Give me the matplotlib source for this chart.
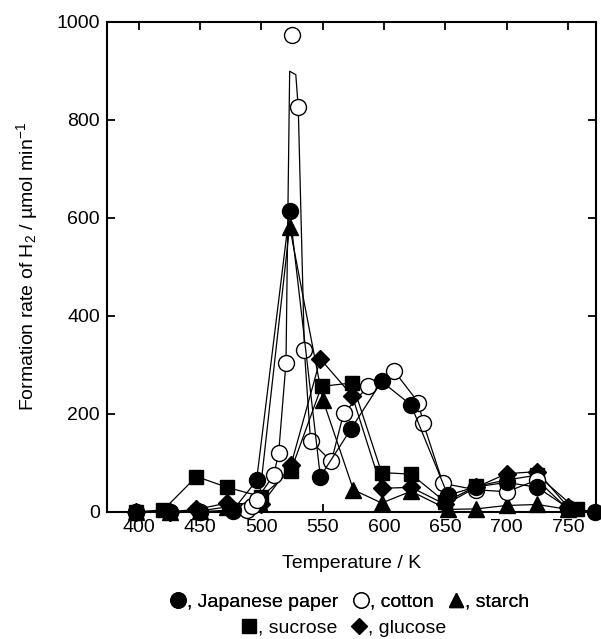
import matplotlib
matplotlib.use("Agg")
import matplotlib.pyplot as plt
from matplotlib.lines import Line2D

plt.rcParams['font.family'] = ['Liberation Sans', 'DejaVu Sans']
plt.rcParams['mathtext.fontset'] = 'custom'
plt.rcParams['mathtext.rm'] = 'Liberation Sans'
plt.rcParams['mathtext.it'] = 'Liberation Sans'

# Japanese paper (filled circles)
paper_T = [398, 425, 450, 477, 496, 523, 548, 573, 598, 622, 652, 675, 700, 725, 750, 772]
paper_V = [0, 0, 0, 4, 64, 614, 72, 169, 266, 218, 34, 51, 60, 50, 8, 0]

# cotton (open circles); the drawn curve tops out below the 525 K point
cotton_T = [398, 425, 450, 477, 488, 492, 496, 510, 514, 520, 525, 530, 535, 540,
            557, 567, 587, 608, 628, 632, 648, 675, 700, 725, 750]
cotton_V = [0, 0, 0, 2, 4, 11, 25, 75, 120, 304, 973, 825, 330, 145,
            103, 201, 256, 288, 223, 181, 58, 45, 41, 65, 5]
cotton_line_T = [398, 425, 450, 477, 488, 492, 496, 510, 514, 520, 523, 528, 530, 535, 540,
                 557, 567, 587, 608, 628, 632, 648, 675, 700, 725, 750]
cotton_line_V = [0, 0, 0, 2, 4, 11, 25, 75, 120, 304, 899, 892, 825, 330, 145,
                 103, 201, 256, 288, 223, 181, 58, 45, 41, 65, 5]

# starch (filled triangles)
starch_T = [398, 425, 450, 472, 498, 523, 550, 575, 598, 622, 652, 675, 700, 725, 750]
starch_V = [0, 0, 2, 10, 20, 582, 229, 45, 18, 42, 5, 6, 13, 15, 5]

# sucrose (filled squares)
sucrose_T = [398, 420, 447, 472, 500, 524, 549, 574, 598, 622, 650, 675, 700, 725, 757]
sucrose_V = [0, 4, 72, 50, 31, 84, 256, 263, 80, 77, 20, 52, 65, 75, 5]

# glucose (filled diamonds)
glucose_T = [398, 425, 447, 472, 500, 524, 548, 574, 598, 622, 650, 675, 700, 725, 750]
glucose_V = [0, 0, 5, 18, 15, 95, 312, 237, 48, 50, 15, 50, 78, 82, 10]

x_ticks = [400, 450, 500, 550, 600, 650, 700, 750]
y_ticks = [0, 200, 400, 600, 800, 1000]

fs = 14

fig = plt.figure(figsize=(6.01, 6.39), dpi=100)
ax = fig.add_axes([0.178, 0.199, 0.814, 0.767])

lw = 0.9
ax.plot(sucrose_T, sucrose_V, color='black', lw=lw, marker='s', ms=10,
        mfc='black', mec='black', clip_on=False, zorder=3)
ax.plot(glucose_T, glucose_V, color='black', lw=lw, marker='D', ms=9,
        mfc='black', mec='black', clip_on=False, zorder=3)
ax.plot(starch_T, starch_V, color='black', lw=lw, marker='^', ms=11,
        mfc='black', mec='black', clip_on=False, zorder=3)
ax.plot(cotton_line_T, cotton_line_V, color='black', lw=lw, clip_on=False, zorder=3)
ax.plot(cotton_T, cotton_V, ls='none', marker='o', ms=11.5, mfc='white',
        mec='black', mew=1.0, clip_on=False, zorder=4)
ax.plot(paper_T, paper_V, color='black', lw=lw, marker='o', ms=11.5,
        mfc='black', mec='black', clip_on=False, zorder=5)

ax.set_xlim(374, 773)
ax.set_ylim(0, 1000)
ax.set_xticks(x_ticks)
ax.set_yticks(y_ticks)
ax.tick_params(direction='in', length=6, width=1.3, top=True, right=True,
               labelsize=fs, pad=5)
for s in ax.spines.values():
    s.set_linewidth(1.5)

ax.set_xlabel('Temperature / K', fontsize=fs, labelpad=14)
ax.set_ylabel(r'Formation rate of H$_2$ / µmol min$^{-1}$', fontsize=fs, labelpad=12)

def handle(m, ms, fill):
    return Line2D([], [], ls='none', marker=m, ms=ms, mfc=fill, mec='black', mew=1.0)

row1 = [handle('o', 11, 'black'), handle('o', 11, 'white'), handle('^', 10, 'black')]
row2 = [handle('s', 10, 'black'), handle('D', 8.5, 'black')]

leg1 = fig.legend(row1, [', Japanese paper', ', cotton', ', starch'], loc='center',
                  bbox_to_anchor=(0.581, 0.058), ncol=3, frameon=False, fontsize=fs,
                  handlelength=0.9, handletextpad=0.0, columnspacing=0.7,
                  borderaxespad=0, borderpad=0)
fig.add_artist(leg1)
fig.legend(row2, [', sucrose', ', glucose'], loc='center',
           bbox_to_anchor=(0.571, 0.017), ncol=2, frameon=False, fontsize=fs,
           handlelength=0.9, handletextpad=0.0, columnspacing=0.7,
           borderaxespad=0, borderpad=0)

fig.savefig('out.png', dpi=100)
